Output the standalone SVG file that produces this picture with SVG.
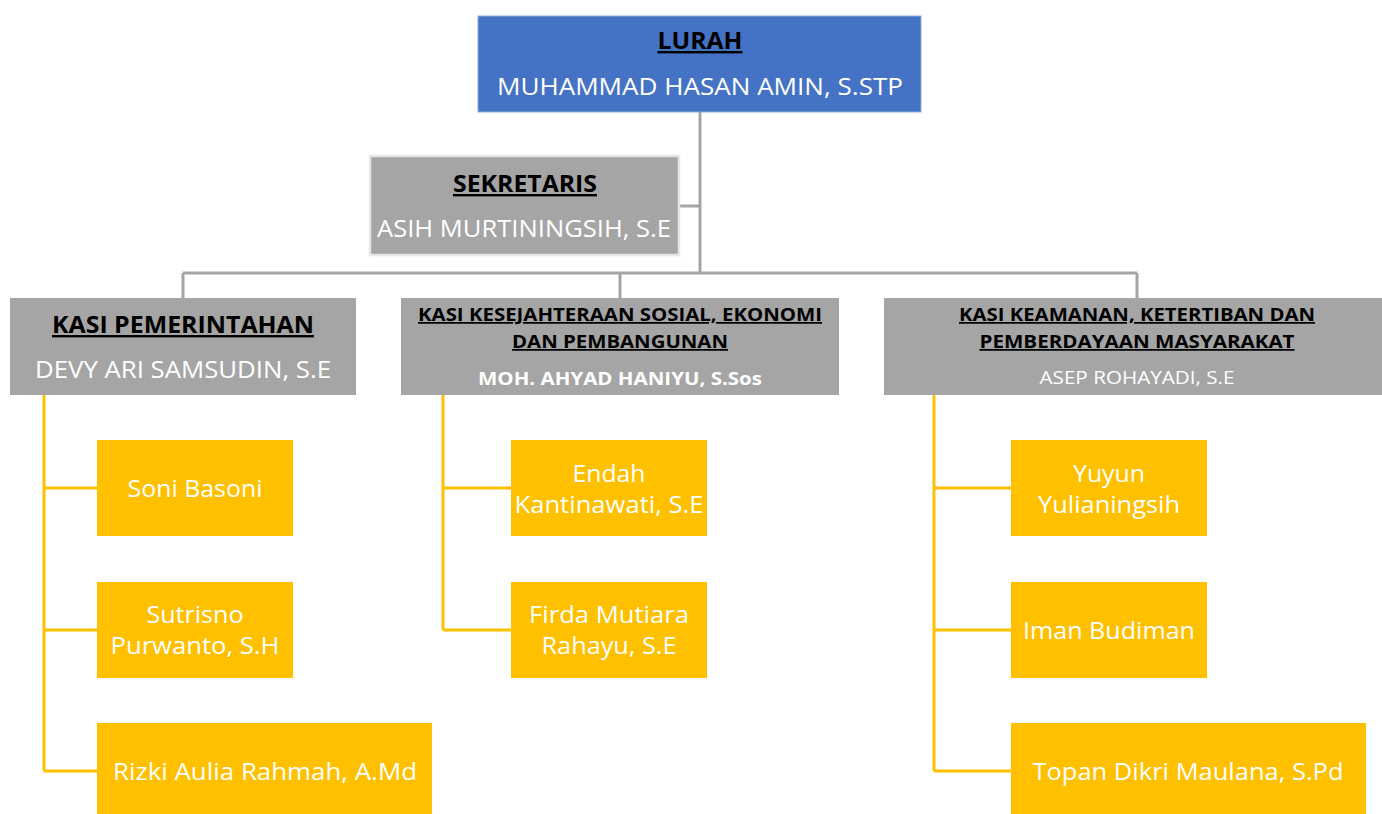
<svg xmlns="http://www.w3.org/2000/svg" width="1382" height="814" viewBox="0 0 1382 814">
<style>
text{font-family:"Open Sans","Noto Sans",sans-serif;text-anchor:middle}
.blue{fill:#4472C4;stroke:#8FAADC;stroke-width:1}
.gray{fill:#A5A5A5}
.yel{fill:#FFC000}
.t{font-weight:bold;fill:#000;text-decoration:underline}
.w{fill:#fff}
.L{font-size:24px}
.S{font-size:17.5px}
.gc{stroke:#A5A5A5;stroke-width:3;fill:none}
.yc{stroke:#FFC000;stroke-width:3;fill:none}
</style>
<rect width="1382" height="814" fill="#fff"/>
<g id="connectors">
<path class="gc" d="M700 112V273M680 206H700M183 273H1137M183 273V298M620 273V298M1137 273V298"/>
<path class="yc" d="M44 395V771M44 488H97M44 630H97M44 771H97"/>
<path class="yc" d="M443 395V630M443 488H511M443 630H511"/>
<path class="yc" d="M934 395V771M934 488H1011M934 630H1011M934 771H1011"/>
</g>
<g id="lurah">
<rect class="blue" x="478" y="16" width="443" height="96"/>
<text class="t L" x="700" y="49" textLength="85" lengthAdjust="spacingAndGlyphs">LURAH</text>
<text class="w L" x="700" y="95" textLength="406" lengthAdjust="spacingAndGlyphs">MUHAMMAD HASAN AMIN, S.STP</text>
</g>
<g id="sekretaris">
<rect class="gray" x="370" y="156" width="309" height="99" stroke="#E6E6E6" stroke-width="2.5"/>
<text class="t L" x="525" y="192" textLength="144" lengthAdjust="spacingAndGlyphs">SEKRETARIS</text>
<text class="w L" x="524" y="237" textLength="294" lengthAdjust="spacingAndGlyphs">ASIH MURTININGSIH, S.E</text>
</g>
<g id="kasi-pemerintahan">
<rect class="gray" x="10" y="298" width="346" height="97"/>
<text class="t L" x="183" y="333" textLength="262" lengthAdjust="spacingAndGlyphs">KASI PEMERINTAHAN</text>
<text class="w L" x="183" y="378" textLength="296" lengthAdjust="spacingAndGlyphs">DEVY ARI SAMSUDIN, S.E</text>
</g>
<g id="kasi-kesejahteraan">
<rect class="gray" x="401" y="298" width="438" height="97"/>
<text class="t S" x="620" y="321" textLength="404" lengthAdjust="spacingAndGlyphs">KASI KESEJAHTERAAN SOSIAL, EKONOMI</text>
<text class="t S" x="620" y="348" textLength="216" lengthAdjust="spacingAndGlyphs">DAN PEMBANGUNAN</text>
<text class="w S" x="620" y="385" font-weight="bold" textLength="284" lengthAdjust="spacingAndGlyphs">MOH. AHYAD HANIYU, S.Sos</text>
</g>
<g id="kasi-keamanan">
<rect class="gray" x="884" y="298" width="498" height="97"/>
<text class="t S" x="1137" y="321" textLength="356" lengthAdjust="spacingAndGlyphs">KASI KEAMANAN, KETERTIBAN DAN</text>
<text class="t S" x="1137" y="348" textLength="315" lengthAdjust="spacingAndGlyphs">PEMBERDAYAAN MASYARAKAT</text>
<text class="w S" x="1137" y="384" textLength="195" lengthAdjust="spacingAndGlyphs">ASEP ROHAYADI, S.E</text>
</g>
<g id="soni">
<rect class="yel" x="97" y="440" width="196" height="96"/>
<text class="w L" x="195" y="497" textLength="135" lengthAdjust="spacingAndGlyphs">Soni Basoni</text>
</g>
<g id="sutrisno">
<rect class="yel" x="97" y="582" width="196" height="96"/>
<text class="w L" x="195" y="623" textLength="97" lengthAdjust="spacingAndGlyphs">Sutrisno</text>
<text class="w L" x="195" y="654" textLength="169" lengthAdjust="spacingAndGlyphs">Purwanto, S.H</text>
</g>
<g id="rizki">
<rect class="yel" x="97" y="723" width="335" height="91"/>
<text class="w L" x="265" y="780" textLength="304" lengthAdjust="spacingAndGlyphs">Rizki Aulia Rahmah, A.Md</text>
</g>
<g id="endah">
<rect class="yel" x="511" y="440" width="196" height="96"/>
<text class="w L" x="609" y="482" textLength="73" lengthAdjust="spacingAndGlyphs">Endah</text>
<text class="w L" x="609" y="513" textLength="189" lengthAdjust="spacingAndGlyphs">Kantinawati, S.E</text>
</g>
<g id="firda">
<rect class="yel" x="511" y="582" width="196" height="96"/>
<text class="w L" x="609" y="623" textLength="160" lengthAdjust="spacingAndGlyphs">Firda Mutiara</text>
<text class="w L" x="609" y="654" textLength="135" lengthAdjust="spacingAndGlyphs">Rahayu, S.E</text>
</g>
<g id="yuyun">
<rect class="yel" x="1011" y="440" width="196" height="96"/>
<text class="w L" x="1109" y="482" textLength="72" lengthAdjust="spacingAndGlyphs">Yuyun</text>
<text class="w L" x="1109" y="513" textLength="142" lengthAdjust="spacingAndGlyphs">Yulianingsih</text>
</g>
<g id="iman">
<rect class="yel" x="1011" y="582" width="196" height="96"/>
<text class="w L" x="1109" y="639" textLength="172" lengthAdjust="spacingAndGlyphs">Iman Budiman</text>
</g>
<g id="topan">
<rect class="yel" x="1011" y="723" width="355" height="91"/>
<text class="w L" x="1188" y="780" textLength="311" lengthAdjust="spacingAndGlyphs">Topan Dikri Maulana, S.Pd</text>
</g>
</svg>
